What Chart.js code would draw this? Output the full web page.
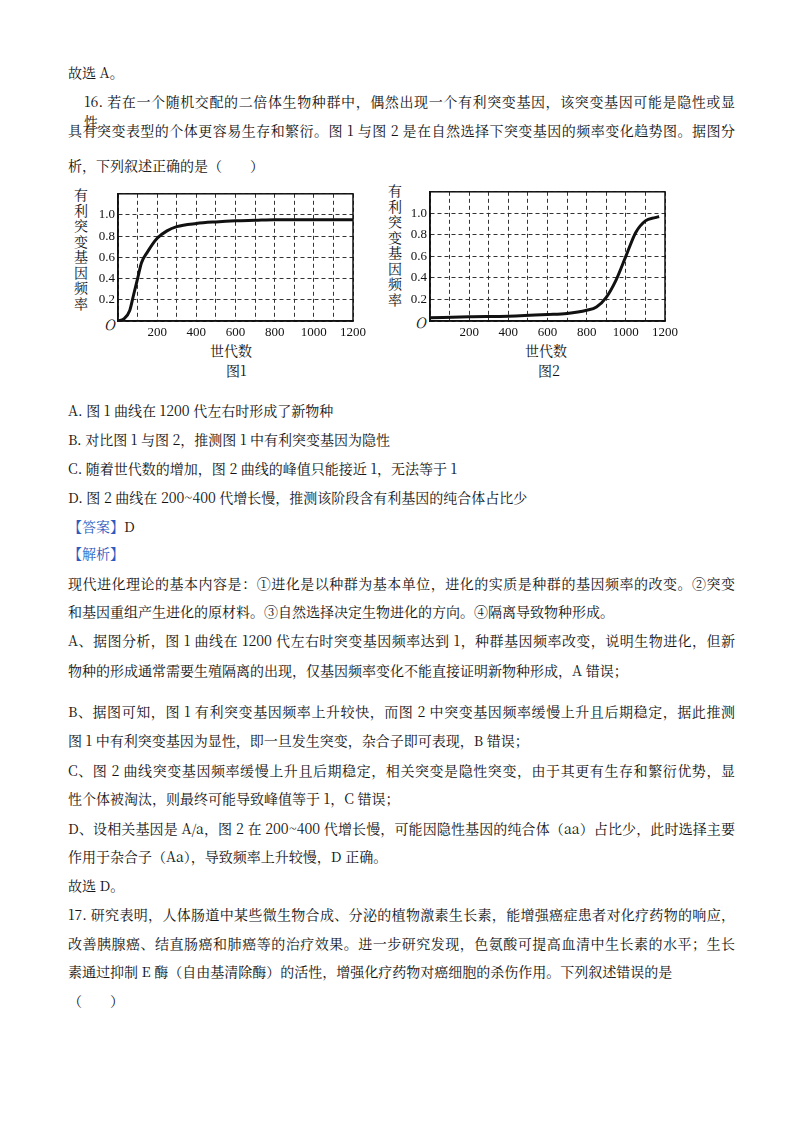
<!DOCTYPE html>
<html><head><meta charset="utf-8">
<script src="https://cdn.jsdelivr.net/npm/chart.js@4"></script>
<style>
body{margin:0;width:800px;height:1132px;background:#fff;position:relative;font-family:"Noto Serif CJK SC","Noto Sans CJK SC",serif;color:#111;font-size:14px}
.l{position:absolute;left:68px;width:667px;white-space:nowrap;line-height:20px}
.j{text-align:justify;text-align-last:justify;white-space:normal;height:20px;overflow:visible}
.b{color:#2b5bbf}
.vt{position:absolute;width:18px;font-size:14px;line-height:15.5px;text-align:center}
.ax{position:absolute;font-size:14px}
canvas{position:absolute}
</style></head><body>
<div class="l" style="top:62px">故选 A。</div>
<div class="l j" style="top:91px;left:84px;width:651px">16. 若在一个随机交配的二倍体生物种群中，偶然出现一个有利突变基因，该突变基因可能是隐性或显性，</div>
<div class="l j" style="top:120px">具有突变表型的个体更容易生存和繁衍。图 1 与图 2 是在自然选择下突变基因的频率变化趋势图。据图分</div>
<div class="l" style="top:155px">析，下列叙述正确的是（　　）</div>

<div class="vt" style="left:72px;top:187px">有利突变基因频率</div>
<div class="ax" style="left:104px;top:314px;font-style:italic">O</div>
<div class="ax" style="left:210px;top:340px">世代数</div>
<div class="ax" style="left:226px;top:360px">图1</div>
<canvas id="c1" style="left:88px;top:183px;width:282px;height:160px" width="282" height="160"></canvas>

<div class="vt" style="left:386px;top:183px">有利突变基因频率</div>
<div class="ax" style="left:415px;top:312px;font-style:italic">O</div>
<div class="ax" style="left:525px;top:340px">世代数</div>
<div class="ax" style="left:538px;top:360px">图2</div>
<canvas id="c2" style="left:400px;top:181px;width:282px;height:162px" width="282" height="162"></canvas>

<div class="l" style="top:400px">A. 图 1 曲线在 1200 代左右时形成了新物种</div>
<div class="l" style="top:429px">B. 对比图 1 与图 2，推测图 1 中有利突变基因为隐性</div>
<div class="l" style="top:458px">C. 随着世代数的增加，图 2 曲线的峰值只能接近 1，无法等于 1</div>
<div class="l" style="top:487px">D. 图 2 曲线在 200~400 代增长慢，推测该阶段含有利基因的纯合体占比少</div>
<div class="l" style="top:516px"><span class="b">【答案】</span>D</div>
<div class="l b" style="top:543px">【解析】</div>
<div class="l j" style="top:573px">现代进化理论的基本内容是：①进化是以种群为基本单位，进化的实质是种群的基因频率的改变。②突变</div>
<div class="l" style="top:601px">和基因重组产生进化的原材料。③自然选择决定生物进化的方向。④隔离导致物种形成。</div>
<div class="l j" style="top:630px">A、据图分析，图 1 曲线在 1200 代左右时突变基因频率达到 1，种群基因频率改变，说明生物进化，但新</div>
<div class="l" style="top:660px">物种的形成通常需要生殖隔离的出现，仅基因频率变化不能直接证明新物种形成，A 错误；</div>
<div class="l j" style="top:701px">B、据图可知，图 1 有利突变基因频率上升较快，而图 2 中突变基因频率缓慢上升且后期稳定，据此推测</div>
<div class="l" style="top:730px">图 1 中有利突变基因为显性，即一旦发生突变，杂合子即可表现，B 错误；</div>
<div class="l j" style="top:760px">C、图 2 曲线突变基因频率缓慢上升且后期稳定，相关突变是隐性突变，由于其更有生存和繁衍优势，显</div>
<div class="l" style="top:788px">性个体被淘汰，则最终可能导致峰值等于 1，C 错误；</div>
<div class="l j" style="top:818px">D、设相关基因是 A/a，图 2 在 200~400 代增长慢，可能因隐性基因的纯合体（aa）占比少，此时选择主要</div>
<div class="l" style="top:846px">作用于杂合子（Aa），导致频率上升较慢，D 正确。</div>
<div class="l" style="top:875px">故选 D。</div>
<div class="l j" style="top:904px">17. 研究表明，人体肠道中某些微生物合成、分泌的植物激素生长素，能增强癌症患者对化疗药物的响应，</div>
<div class="l j" style="top:933px">改善胰腺癌、结直肠癌和肺癌等的治疗效果。进一步研究发现，色氨酸可提高血清中生长素的水平；生长</div>
<div class="l" style="top:961px">素通过抑制 E 酶（自由基清除酶）的活性，增强化疗药物对癌细胞的杀伤作用。下列叙述错误的是</div>
<div class="l" style="top:990px">（　　）</div>

<script>
// generations (x) and mutant allele frequency (y)
const gen1 = [0, 30, 60, 80, 100, 120, 150, 200, 250, 300, 400, 500, 600, 700, 800, 1200];
const freq1 = [0, 0.02, 0.1, 0.25, 0.4, 0.55, 0.65, 0.78, 0.85, 0.89, 0.92, 0.935, 0.945, 0.95, 0.955, 0.955];
const gen2 = [0, 200, 400, 600, 700, 800, 850, 900, 950, 1000, 1050, 1100, 1150, 1170];
const freq2 = [0.03, 0.04, 0.045, 0.06, 0.07, 0.1, 0.13, 0.22, 0.38, 0.6, 0.82, 0.93, 0.96, 0.97];
const xTicks = [200, 400, 600, 800, 1000, 1200];
const yTicks = [0.2, 0.4, 0.6, 0.8, 1.0];

const FONT = { family: "'Liberation Serif', serif", size: 13 };

function render(id, xs, ys) {
  new Chart(document.getElementById(id), {
    type: 'line',
    data: { datasets: [{ data: xs.map((x, i) => ({ x, y: ys[i] })), borderColor: '#111', borderWidth: 3, pointRadius: 0, cubicInterpolationMode: 'monotone' }] },
    options: {
      responsive: false, animation: false,
      layout: { padding: { right: 16, top: 3 } },
      plugins: { legend: { display: false }, tooltip: { enabled: false } },
      scales: {
        x: {
          type: 'linear', min: 0, max: 1200,
          afterBuildTicks: s => { s.ticks = Array.from({ length: 13 }, (_, i) => ({ value: i * 100 })); },
          afterFit: s => { s.height = 22; },
          border: { color: '#111', width: 1.5, dash: [4, 3] },
          grid: { color: '#333', lineWidth: 1, drawTicks: false },
          ticks: { color: '#111', font: FONT, padding: 4, maxRotation: 0, autoSkip: false,
                   callback: v => xTicks.includes(v) ? String(v) : '' }
        },
        y: {
          min: 0, max: 1.2,
          afterBuildTicks: s => { s.ticks = [0, ...yTicks, 1.2].map(v => ({ value: v })); },
          afterFit: s => { s.width = 30; },
          border: { color: '#111', width: 1.5, dash: [4, 3] },
          grid: { color: '#333', lineWidth: 1, drawTicks: false },
          ticks: { color: '#111', font: FONT, padding: 3,
                   callback: v => yTicks.some(t => Math.abs(t - v) < 1e-6) ? v.toFixed(1) : '' }
        }
      }
    },
    plugins: [{
      id: 'box',
      beforeDatasetsDraw: c => {
        const { ctx, chartArea: a } = c;
        ctx.save(); ctx.strokeStyle = '#111'; ctx.lineWidth = 1.5;
        ctx.strokeRect(a.left, a.top, a.right - a.left, a.bottom - a.top);
        ctx.restore();
      }
    }]
  });
}
render('c1', gen1, freq1);
render('c2', gen2, freq2);
</script>
</body></html>
